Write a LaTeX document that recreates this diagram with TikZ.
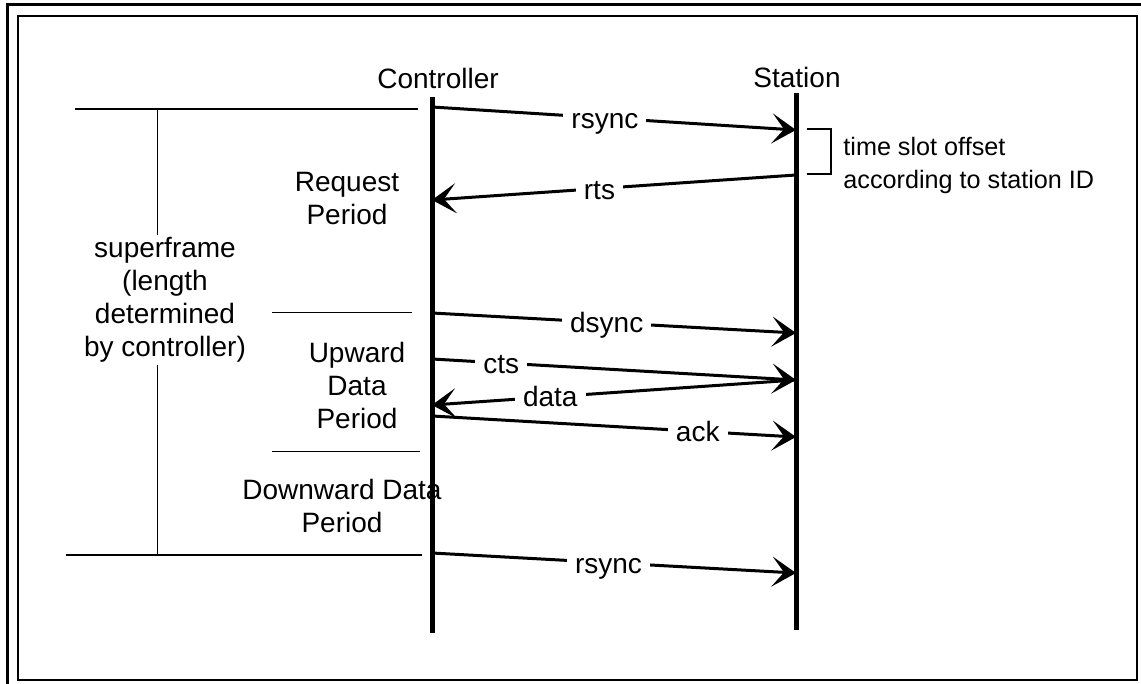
\documentclass[tikz,border=0pt]{standalone}
\usepackage{fontspec}
\setmainfont{Liberation Sans}
\usetikzlibrary{arrows.meta}

\begin{document}
\begin{tikzpicture}[x=0.5pt, y=-0.5pt,
    lifeline/.style={line width=2.5pt},
    msg/.style={line width=1.5pt, -{Stealth[length=12pt, width=15pt, inset=6pt]}},
    lbl/.style={fill=white, inner sep=4pt, font=\fontsize{14}{16.5}\selectfont},
    txt/.style={align=center, inner sep=1pt, font=\fontsize{14}{16.5}\selectfont},
    note/.style={align=left, inner sep=1pt, font=\fontsize{12.6}{16.5}\selectfont},
    bar/.style={line width=1.2pt},
    rule/.style={line width=0.5pt},
]
\useasboundingbox (0,0) rectangle (1141,684);

% Frame
\draw[line width=1.5pt] (7,684) -- (7,5) -- (1141,5);
\draw[line width=0.8pt] (18,16) rectangle (1137,680);

% Lifelines
\node[txt] (ctrl) at (438,78) {Controller};
\node[txt] (stn) at (797,77) {Station};
\coordinate (cT) at (432,97);
\coordinate (cB) at (432,633);
\coordinate (sT) at (796,93);
\coordinate (sB) at (796,630);
\draw[lifeline] (cT) -- (cB);
\draw[lifeline] (sT) -- (sB);

% Period labels
\node[txt] (req) at (347,199) {Request\\Period};
\node[txt] (up) at (357,385) {Upward\\Data\\Period};
\node[txt] (down) at (342,506) {Downward Data\\Period};
\node[txt] (sf) at (165,300) {superframe\\(length\\determined\\by controller)};

% Superframe bounds
\coordinate (b1L) at (75,109);
\coordinate (b1R) at (418,109);
\coordinate (b2L) at (66,555);
\coordinate (b2R) at (422,555);
\coordinate (sfT) at (157,109);
\coordinate (sfB) at (157,555);
\draw[bar] (b1L) -- (b1R);
\draw[bar] (b2L) -- (b2R);
\draw[rule] (sfT) -- (sf.north -| sfT);
\draw[rule] (sf.south -| sfB) -- (sfB);
\draw[rule] (272,313) -- (412,313);
\draw[rule] (272,451) -- (420,451);

% Message ends
\coordinate (c1) at (432,107);
\coordinate (s1) at (796,130);
\coordinate (s2) at (796,175);
\coordinate (c2) at (432,200);
\coordinate (c3) at (432,313);
\coordinate (s3) at (796,333);
\coordinate (c4) at (432,359);
\coordinate (s4) at (796,380);
\coordinate (c5) at (432,405);
\coordinate (c6) at (432,416);
\coordinate (s6) at (796,437);
\coordinate (c7) at (432,553);
\coordinate (s7) at (796,573);

% Messages
\draw[msg] (c1) -- node[lbl, pos=0.475, yshift=-3pt] {rsync} (s1);
\draw[msg] (s2) -- node[lbl, pos=0.54, yshift=-1pt] {rts} (c2);
\draw[msg] (c3) -- node[lbl, pos=0.48, yshift=-1.5pt] {dsync} (s3);
\draw[msg] (c4) -- node[lbl, pos=0.19, yshift=-1pt] {cts} (s4);
\draw[msg] (s4) -- node[lbl, pos=0.675] {data} (c5);
\draw[msg] (c6) -- node[lbl, pos=0.73] {ack} (s6);
\draw[msg] (c7) -- node[lbl, pos=0.485, yshift=-3pt] {rsync} (s7);

% Slot offset
\draw[line width=1pt] (807,129) -- (831,129) -- (831,174) -- (807,174);
\node[note, anchor=west] (tso) at (841,165) {time slot offset\\according to station ID};
\end{tikzpicture}
\end{document}
